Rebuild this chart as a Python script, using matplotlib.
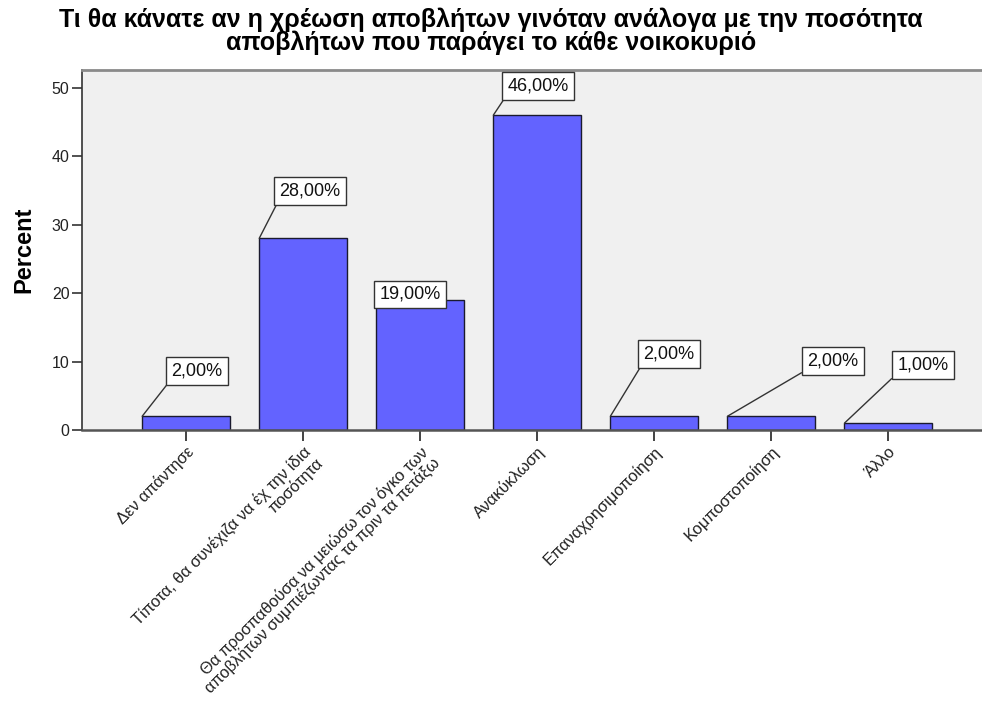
import matplotlib
matplotlib.use("Agg")
import matplotlib.pyplot as plt

# survey answers and their share of respondents
answers = [
    "Δεν απάντησε",
    "Τίποτα, θα συνέχιζα να έχ την ίδια\nποσότητα",
    "Θα προσπαθούσα να μειώσω τον όγκο των\nαποβλήτων συμπιέζωντας τα πριν τα πετάξω",
    "Ανακύκλωση",
    "Επαναχρησιμοποίηση",
    "Κομποστοποίηση",
    "Άλλο",
]
percent = [2.0, 28.0, 19.0, 46.0, 2.0, 2.0, 1.0]
y_ticks = [0, 10, 20, 30, 40, 50]

title = ("Τι θα κάνατε αν η χρέωση αποβλήτων γινόταν ανάλογα με την ποσότητα\n"
         "αποβλήτων που παράγει το κάθε νοικοκυριό")

# where each value box sits relative to the top-left corner of its bar (pixels)
label_offsets = [(24, 32), (15, 34), (-2, -8), (9, 16), (28, 49), (75, 42), (48, 45)]

plt.rcParams['font.family'] = ['Liberation Sans', 'DejaVu Sans']

fig = plt.figure(figsize=(9.82, 7.08), dpi=100)
ax = fig.add_axes([0.0835, 0.3927, 0.9165, 0.5084])
ax.set_facecolor("#f0f0f0")

bar_w = 0.75
xs = list(range(len(answers)))
ax.bar(xs, percent, width=bar_w, color="#6363ff", edgecolor="#1a1a2e",
       linewidth=1.0, zorder=2)

ax.set_xlim(-0.889, 6.80)
ax.set_ylim(0, 52.6)
ax.set_yticks(y_ticks)
ax.set_xticks(xs)
ax.set_xticklabels(answers, rotation=45, ha="right", rotation_mode="anchor",
                   fontsize=11.8, color="#222222", linespacing=1.0)
ax.tick_params(axis="y", labelsize=11.5, length=7, width=1.2, colors="#333333",
               pad=2)
ax.tick_params(axis="x", length=8, width=1.2, colors="#222222", pad=2)
for lab in ax.get_yticklabels():
    lab.set_color("#222222")

ax.spines["right"].set_visible(False)
ax.spines["top"].set_color("#8a8a8a")
ax.spines["top"].set_linewidth(2)
ax.spines["left"].set_color("#333333")
ax.spines["left"].set_linewidth(1.2)
ax.spines["bottom"].set_color("#555555")
ax.spines["bottom"].set_linewidth(1.8)

ax.set_ylabel("Percent", fontsize=17, fontweight="bold", labelpad=12)

# value boxes with leader lines
pad_px = 5
for i, v in enumerate(percent):
    dx, dy = label_offsets[i]
    ax.annotate(f"{v:.2f}%".replace(".", ","),
                xy=(i - bar_w / 2, v), xycoords="data",
                xytext=(dx + pad_px, dy + pad_px), textcoords="offset pixels",
                ha="left", va="bottom", fontsize=13, color="#111111",
                bbox=dict(boxstyle="square,pad=0.3", fc="white", ec="#333333",
                          lw=1.0),
                arrowprops=dict(arrowstyle="-", relpos=(0, 0), color="#333333",
                                lw=1.0, shrinkA=0, shrinkB=0),
                zorder=4)

fig.suptitle(title, fontsize=18, fontweight="bold", y=0.99, va="top",
             linespacing=0.95)

fig.savefig("out.png", dpi=100)
